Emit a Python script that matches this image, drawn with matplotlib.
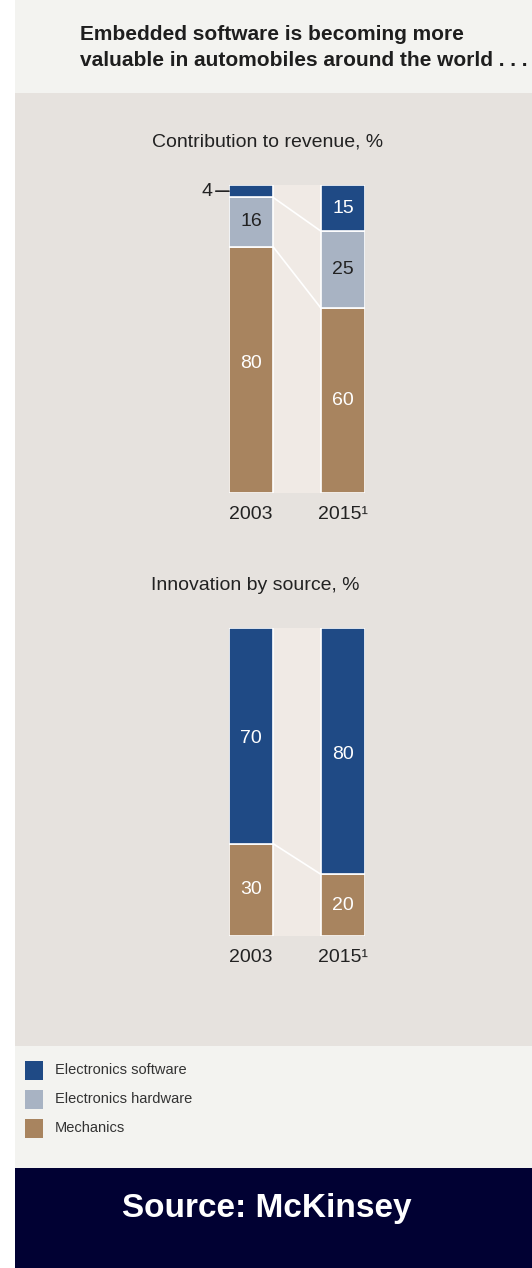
import matplotlib
matplotlib.use("Agg")
import matplotlib.pyplot as plt
from matplotlib.patches import Rectangle
import numpy as np

# ---- data ----
years = ["2003", "2015\u00b9"]
categories = ["Mechanics", "Electronics hardware", "Electronics software"]
revenue_mech = [80, 60]
revenue_hw = [16, 25]
revenue_sw = [4, 15]
innov_mech = [30, 20]
innov_sw = [70, 80]
legend_labels = ["Electronics software", "Electronics hardware", "Mechanics"]

# ---- style ----
C_SW = "#1f4a85"
C_HW = "#a8b3c3"
C_ME = "#a8845f"
C_BG = "#e6e2de"
C_BAND = "#f0eae5"
C_LIGHT = "#f3f3f0"
C_NAVY = "#010133"
FONT = ["Liberation Sans", "DejaVu Sans"]
W, H = 532, 1268

fig = plt.figure(figsize=(W / 100, H / 100), dpi=100)
fig.patch.set_facecolor("white")

# background axes in pixel coordinates
bg = fig.add_axes([0, 0, 1, 1])
bg.set_xlim(0, W)
bg.set_ylim(H, 0)
bg.axis("off")
bg.add_patch(Rectangle((15, 0), W - 15, 93, color=C_LIGHT, lw=0))
bg.add_patch(Rectangle((15, 93), W - 15, 953, color=C_BG, lw=0))
bg.add_patch(Rectangle((15, 1046), W - 15, 122, color=C_LIGHT, lw=0))
bg.add_patch(Rectangle((15, 1168), W - 15, 100, color=C_NAVY, lw=0))

bg.text(80, 34, "Embedded software is becoming more", fontsize=15, fontweight="bold",
        family=FONT, color="#1e1e1e", va="center", ha="left")
bg.text(80, 60, "valuable in automobiles around the world . . .", fontsize=15,
        fontweight="bold", family=FONT, color="#1e1e1e", va="center", ha="left")

bg.text(268, 142, "Contribution to revenue, %", fontsize=14, family=FONT,
        color="#222222", ha="center", va="center")
bg.text(255, 585, "Innovation by source, %", fontsize=14, family=FONT,
        color="#222222", ha="center", va="center")

# legend
leg_colors = [C_SW, C_HW, C_ME]
leg_y = [1070, 1099, 1128]
for lab, col, y in zip(legend_labels, leg_colors, leg_y):
    bg.add_patch(Rectangle((25, y - 9.5), 18, 19, color=col, lw=0))
    bg.text(55, y, lab, fontsize=10.5, family=FONT, color="#333333", va="center", ha="left")

bg.text(266.5, 1208, "Source: McKinsey", fontsize=24, fontweight="bold",
        family=FONT, color="white", ha="center", va="center")

# bar chart axes helper
x0_px, x1_px = 229, 365
bw = 44 / 92.0
xl = (-bw / 2, 1 + bw / 2)


def make_ax(top_px, bot_px):
    ax = fig.add_axes([x0_px / W, 1 - bot_px / H, (x1_px - x0_px) / W, (bot_px - top_px) / H])
    ax.set_xlim(*xl)
    ax.set_ylim(0, 100)
    ax.axis("off")
    ax.patch.set_alpha(0)
    return ax


x = np.arange(2)
lab_kw = dict(ha="center", va="center", fontsize=14, family=FONT)
yr_kw = dict(ha="center", va="center", fontsize=14, family=FONT, color="#222222", clip_on=False)

# --- top chart ---
ax1 = make_ax(185, 493)
ax1.fill_between([bw / 2, 1 - bw / 2], 0, 100, color=C_BAND, lw=0, zorder=0)
stacks = [(revenue_mech, C_ME), (revenue_hw, C_HW), (revenue_sw, C_SW)]
bottom = np.zeros(2)
bounds = []
for vals, col in stacks:
    vals = np.array(vals, dtype=float)
    ax1.bar(x, vals, bottom=bottom, width=bw, color=col, edgecolor="white", lw=1.2, zorder=2)
    bottom = bottom + vals
    bounds.append(bottom.copy())
for b in bounds[:2]:
    ax1.plot([bw / 2, 1 - bw / 2], [b[0], b[1]], color="white", lw=1.2, zorder=1)

ax1.text(0, revenue_mech[0] / 2 + 2, str(revenue_mech[0]), color="white", **lab_kw)
ax1.text(1, revenue_mech[1] / 2, str(revenue_mech[1]), color="white", **lab_kw)
ax1.text(0, revenue_mech[0] + revenue_hw[0] / 2, str(revenue_hw[0]), color="#222222", **lab_kw)
ax1.text(1, revenue_mech[1] + revenue_hw[1] / 2, str(revenue_hw[1]), color="#222222", **lab_kw)
ax1.text(1, 100 - revenue_sw[1] / 2, str(revenue_sw[1]), color="white", **lab_kw)
ax1.annotate(str(revenue_sw[0]), xy=(-bw / 2, 100 - revenue_sw[0] / 2),
             xytext=(-16, 0), textcoords="offset pixels", ha="right", va="center",
             fontsize=14, family=FONT, color="#222222", annotation_clip=False,
             arrowprops=dict(arrowstyle="-", color="#222222", lw=1.2,
                             shrinkA=0, shrinkB=0))
for xi, yr in zip(x, years):
    ax1.text(xi, -7, yr, **yr_kw)

# --- bottom chart ---
ax2 = make_ax(628, 936)
ax2.fill_between([bw / 2, 1 - bw / 2], 0, 100, color=C_BAND, lw=0, zorder=0)
ax2.bar(x, innov_mech, width=bw, color=C_ME, edgecolor="white", lw=1.2, zorder=2)
ax2.bar(x, innov_sw, bottom=innov_mech, width=bw, color=C_SW, edgecolor="white", lw=1.2, zorder=2)
ax2.plot([bw / 2, 1 - bw / 2], innov_mech, color="white", lw=1.2, zorder=1)
for xi in x:
    ax2.text(xi, innov_mech[xi] / 2, str(innov_mech[xi]), color="white", **lab_kw)
    ax2.text(xi, innov_mech[xi] + innov_sw[xi] / 2 - 1, str(innov_sw[xi]), color="white", **lab_kw)
for xi, yr in zip(x, years):
    ax2.text(xi, -7, yr, **yr_kw)

fig.savefig("out.png", dpi=100, facecolor=fig.get_facecolor())
